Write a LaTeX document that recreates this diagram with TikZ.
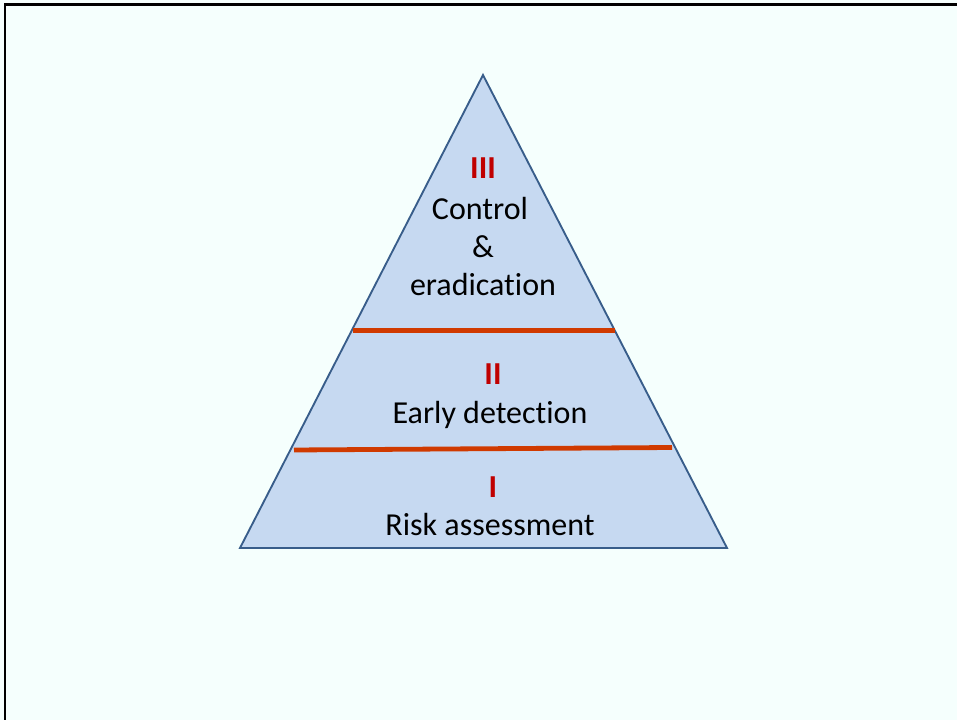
\documentclass[tikz,border=0pt]{standalone}
\usepackage{fontspec}
\setmainfont{Carlito}[Ligatures=NoCommon]
\usepackage{tikz}

\definecolor{slidebg}{RGB}{245,255,253}
\definecolor{pyrfill}{RGB}{198,217,241}
\definecolor{pyredge}{RGB}{56,93,138}
\definecolor{bandline}{RGB}{208,58,0}
\definecolor{levelred}{RGB}{192,0,0}

\tikzset{
    level/.style = {anchor = base, text = levelred, font = \fontsize{24}{28}\selectfont\bfseries},
    label/.style = {anchor = base, font = \fontsize{24}{28}\selectfont}
}

\begin{document}
\begin{tikzpicture}[x = 0.75pt, y = -0.75pt]
        \fill [slidebg] (0,0) rectangle (957,720);
        \useasboundingbox (0,0) rectangle (957,720);
        \draw [line width = 2.2pt] (5,720) -- (5,4.5) -- (957,4.5);

        \coordinate (apex) at (483,75);
        \coordinate (left) at (240,548);
        \coordinate (right) at (727,548);
        \draw [fill = pyrfill, draw = pyredge, line width = 1.4pt] (apex) -- (right) -- (left) -- cycle;

        \draw [bandline, line width = 3.6pt] (353,330.5) -- (615,330.5);
        \draw [bandline, line width = 3.6pt] (294,450) -- (672,447.5);

        \node [level] (lvlthree) at (483,179) {III};
        \node [label] (control) at (480,220) {Control};
        \node [label] (amp) at (483,258) {\&};
        \node [label] (eradication) at (483,296) {eradication};

        \node [level] (lvltwo) at (493,384) {II};
        \node [label] (early) at (490,423) {Early detection};

        \node [level] (lvlone) at (493,497) {I};
        \node [label] (risk) at (490,535) {Risk assessment};
    \end{tikzpicture}
\end{document}
